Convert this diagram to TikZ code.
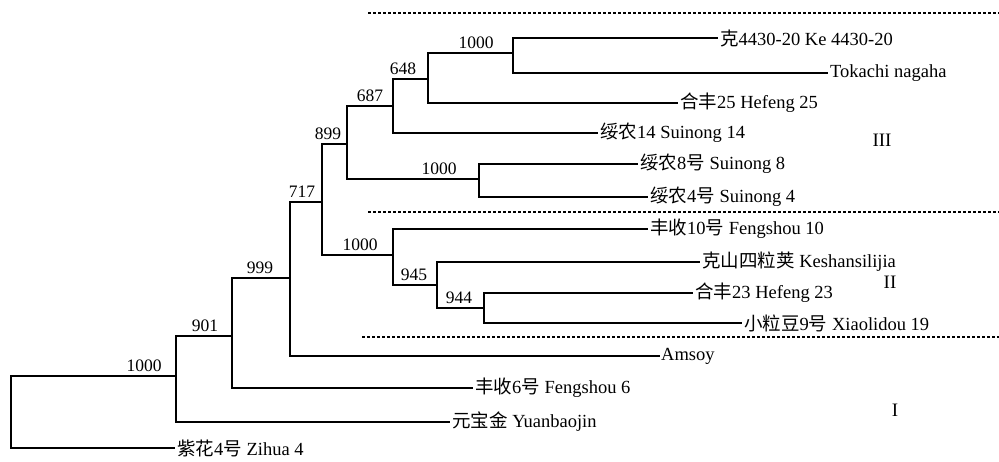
\documentclass[tikz,border=0pt]{standalone}
\usepackage{fontspec}
\setmainfont{Liberation Serif}
\newfontfamily\cjk{Noto Sans CJK SC}

\begin{document}
\begin{tikzpicture}[
    x=1pt, y=-1pt,
    branch/.style={line width=2pt},
    sep/.style={line width=1.1pt, dash pattern=on 3pt off 2pt},
    leaf/.style={anchor=west, inner sep=2pt, font=\fontsize{18.5}{20}\selectfont},
    boot/.style={anchor=south, inner sep=0pt, yshift=4pt, font=\fontsize{17.5}{20}\selectfont},
    grp/.style={font=\fontsize{19}{20}\selectfont}
]
    \useasboundingbox (0,0) rectangle (999,461);

    % --- internal nodes ---
    \coordinate (nR) at (11,412);
    \coordinate (nL) at (176,376);
    \coordinate (nK) at (232,336);
    \coordinate (nJ) at (290,278);
    \coordinate (nF) at (322,202);
    \coordinate (nD) at (347,144);
    \coordinate (nC) at (393,106);
    \coordinate (nB) at (428,79);
    \coordinate (nA) at (513,53);
    \coordinate (nE) at (479,179);
    \coordinate (nG) at (393,255);
    \coordinate (nH) at (437,285);
    \coordinate (nI) at (484,308);

    % --- leaves ---
    \node[leaf] (kee)  at (718,38)  {{\cjk 克}4430-20 Ke 4430-20};
    \node[leaf] (toka) at (828,73)  {Tokachi nagaha};
    \node[leaf] (hf25) at (678,103) {{\cjk 合丰}25 Hefeng 25};
    \node[leaf] (sn14) at (598,133) {{\cjk 绥农}14 Suinong 14};
    \node[leaf] (sn8)  at (638,164) {{\cjk 绥农}8{\cjk 号} Suinong 8};
    \node[leaf] (sn4)  at (648,197) {{\cjk 绥农}4{\cjk 号} Suinong 4};
    \node[leaf] (fs10) at (648,229) {{\cjk 丰收}10{\cjk 号} Fengshou 10};
    \node[leaf] (ksl)  at (700,262) {{\cjk 克山四粒荚} Keshansilijia};
    \node[leaf] (hf23) at (693,293) {{\cjk 合丰}23 Hefeng 23};
    \node[leaf] (xld)  at (742,323) {{\cjk 小粒豆}9{\cjk 号} Xiaolidou 19};
    \node[leaf, inner sep=1pt] (ams) at (660,356) {Amsoy};
    \node[leaf] (fs6)  at (473,388) {{\cjk 丰收}6{\cjk 号} Fengshou 6};
    \node[leaf] (ybj)  at (450,422) {{\cjk 元宝金} Yuanbaojin};
    \node[leaf] (zh)   at (175,448) {{\cjk 紫花}4{\cjk 号} Zihua 4};

    % --- branches ---
    \draw[branch] (nR) |- (nL) (nR) |- (zh.west);
    \draw[branch] (nL) |- (nK) (nL) |- (ybj.west);
    \draw[branch] (nK) |- (nJ) (nK) |- (fs6.west);
    \draw[branch] (nJ) |- (nF) (nJ) |- (ams.west);
    \draw[branch] (nF) |- (nD) (nF) |- (nG);
    \draw[branch] (nD) |- (nC) (nD) |- (nE);
    \draw[branch] (nC) |- (nB) (nC) |- (sn14.west);
    \draw[branch] (nB) |- (nA) (nB) |- (hf25.west);
    \draw[branch] (nA) |- (kee.west) (nA) |- (toka.west);
    \draw[branch] (nE) |- (sn8.west) (nE) |- (sn4.west);
    \draw[branch] (nG) |- (fs10.west) (nG) |- (nH);
    \draw[branch] (nH) |- (ksl.west) (nH) |- (nI);
    \draw[branch] (nI) |- (hf23.west) (nI) |- (xld.west);

    % --- bootstrap values ---
    \node[boot] at (144,376) {1000};
    \node[boot] at (205,336) {901};
    \node[boot] at (260,278) {999};
    \node[boot] at (302,202) {717};
    \node[boot] at (328,144) {899};
    \node[boot] at (370,106) {687};
    \node[boot] at (403,79)  {648};
    \node[boot] at (476,53)  {1000};
    \node[boot] at (439,179) {1000};
    \node[boot] at (360,255) {1000};
    \node[boot] at (414,285) {945};
    \node[boot] at (459,308) {944};

    % --- groups ---
    \draw[sep] (368,13)  -- (999,13);
    \draw[sep] (368,212) -- (999,212);
    \draw[sep] (362,337) -- (999,337);
    \node[grp] (g3) at (882,140) {III};
    \node[grp] (g2) at (890,282) {II};
    \node[grp] (g1) at (895,410) {I};
\end{tikzpicture}
\end{document}
